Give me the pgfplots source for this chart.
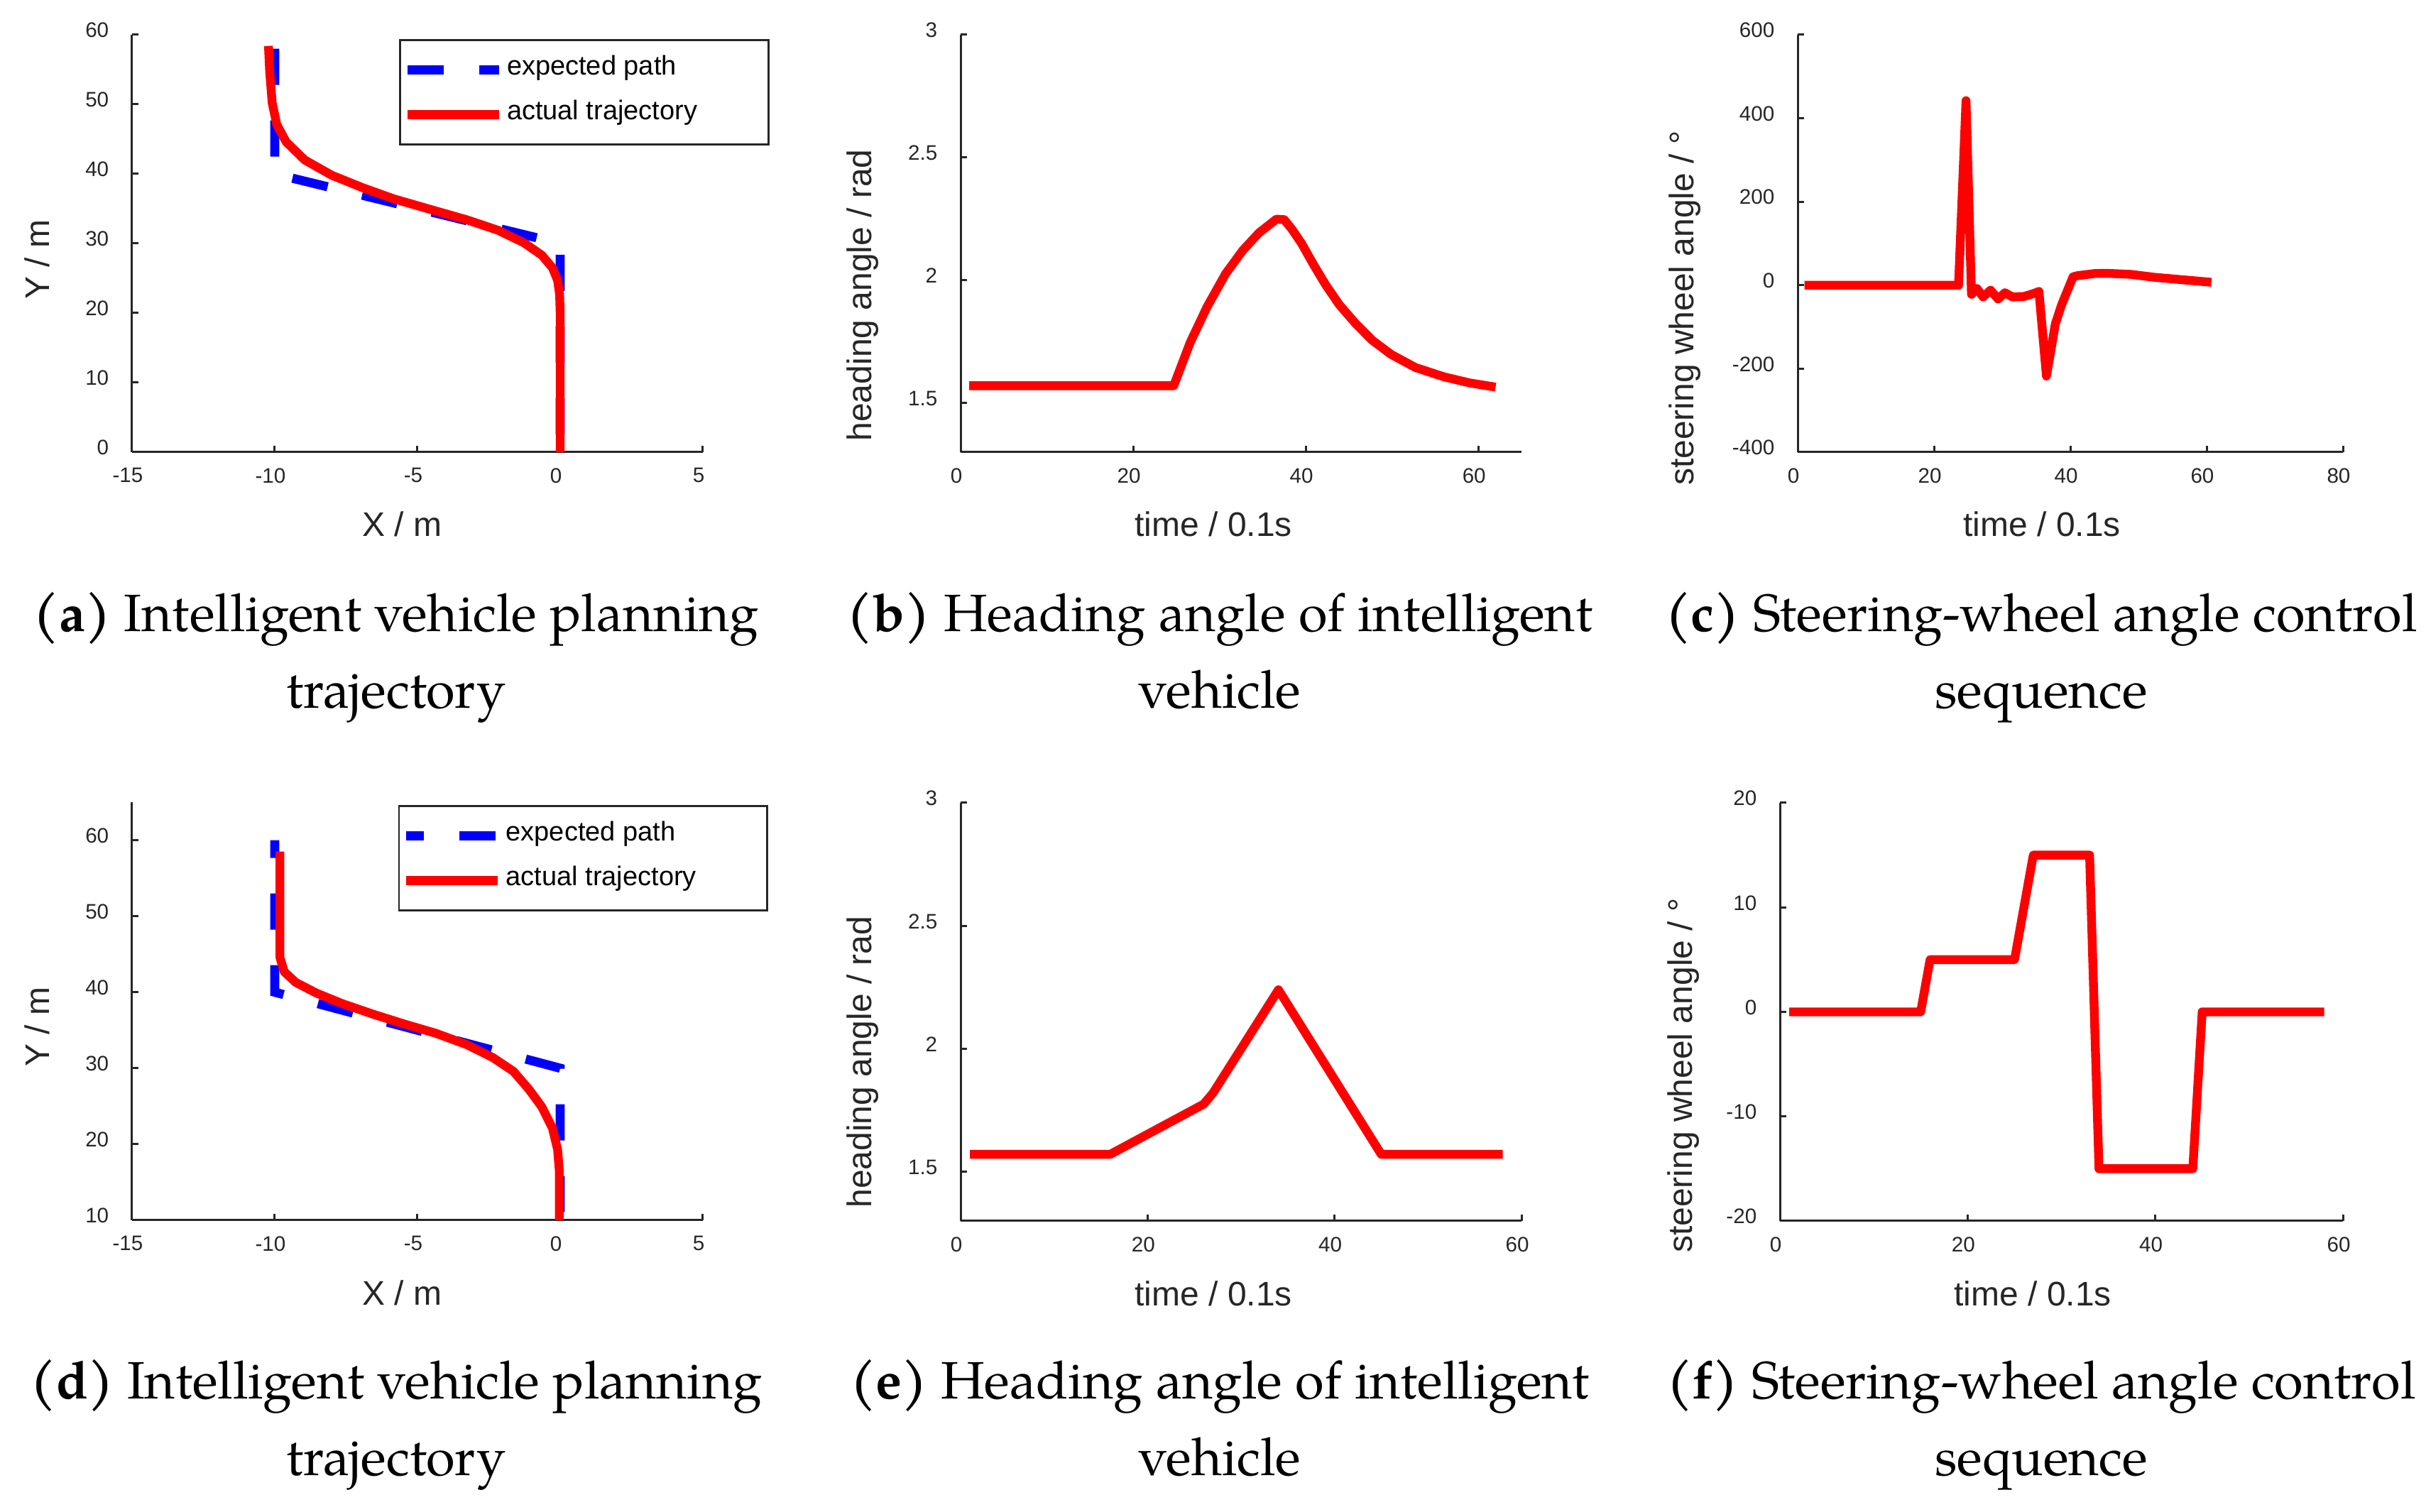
\documentclass[border=0pt]{standalone}
\usepackage{fontspec}
\usepackage{pgfplots}
\pgfplotsset{compat=1.18}
\newfontfamily\arial{Liberation Sans}
\newfontfamily\pal{TeX Gyre Pagella}
\definecolor{axc}{RGB}{38,38,38}

\pgfplotsset{
  base/.style={
    scale only axis,
    axis x line=bottom, axis y line=left,
    axis line style={-, draw=axc, line width=0.75pt},
    every tick/.style={draw=axc, line width=0.75pt},
    major tick length=2.2pt,
    tick align=inside,
    enlargelimits=false,
    clip=false,
    xticklabel style={font=\arial\fontsize{7.4}{8}\selectfont, text=axc, inner sep=0pt, anchor=north, yshift=-5.4pt, xshift=-1.5pt},
    yticklabel style={font=\arial\fontsize{7.4}{8}\selectfont, text=axc, inner sep=0pt, anchor=east, xshift=-8pt, yshift=1.6pt},
    label style={font=\arial\fontsize{12}{14}\selectfont, text=axc},
  },
  redline/.style={color=red, line width=3.1pt, line join=round},
  blueline/.style={color=blue, line width=3.2pt, dash pattern=on 12.75pt off 12.5pt},
  mylegend/.style={
    legend style={at={(axis description cs:#1)}, anchor=north west, draw=axc, line width=0.7pt, fill=white,
      inner xsep=1pt, inner ysep=5.25pt, row sep=5.25pt, column sep=1.2pt,
      font=\arial\fontsize{9.5}{11}\selectfont,
      nodes={inner sep=0pt, text height=7pt, text depth=3.5pt}},
    legend cell align=left,
    legend image code/.code={\draw[##1] (0pt,0pt) -- (32.25pt,0pt);},
  },
}

\begin{document}
\begin{tikzpicture}
\useasboundingbox (0,0) rectangle (854.25pt,532.5pt);

% (a)
\begin{axis}[base, at={(46.5pt,373.25pt)}, anchor=south west, width=201pt, height=147pt,
  xmin=-15, xmax=5, ymin=0, ymax=60,
  xtick={-15,-10,-5,0,5}, xticklabels={-15,-10,-5,0,5},
  ytick={0,10,20,30,40,50,60}, yticklabels={0,10,20,30,40,50,60},
  xlabel={X / m}, ylabel={Y / m},
  xlabel style={at={(axis description cs:0.473,-0.173)}, anchor=center},
  ylabel style={at={(axis description cs:-0.166,0.461)}, anchor=center},
  mylegend={0.4677,0.9898}]
\addplot[blueline] coordinates {(-10,58) (-10,40) (0,30) (0,0)};
\addlegendentry{expected path}
\addplot[redline] coordinates {(-10.22,58.4) (-10.18,54.8) (-10.09,50.2) (-9.93,47.1) (-9.6,44.6) (-8.95,42.0) (-8.0,39.8) (-6.91,38.0) (-5.82,36.4) (-4.55,34.9) (-3.27,33.4) (-2.18,31.9) (-1.27,30.1) (-0.64,28.3) (-0.27,26.5) (-0.09,24.7) (-0.02,22.7) (0,20) (0,0)};
\addlegendentry{actual trajectory\rule{24pt}{0pt}}
\end{axis}

% (b)
\begin{axis}[base, at={(338.25pt,373.25pt)}, anchor=south west, width=197.5pt, height=147pt,
  xmin=0, xmax=65, ymin=1.3, ymax=3,
  xtick={0,20,40,60}, xticklabels={0,20,40,60},
  ytick={1.5,2,2.5,3}, yticklabels={1.5,2,2.5,3},
  xlabel={time / 0.1s}, ylabel={heading angle / rad},
  xlabel style={at={(axis description cs:0.451,-0.173)}, anchor=center},
  ylabel style={at={(axis description cs:-0.175,0.376)}, anchor=center}]
\addplot[redline] coordinates {(1,1.5708) (24.7,1.5708) (26.6,1.746) (28.55,1.891) (30.7,2.026) (32.7,2.122) (34.6,2.194) (36.6,2.249) (37.5,2.247) (38.4,2.208) (39.5,2.151) (40.9,2.064) (42.3,1.982) (43.9,1.900) (45.8,1.823) (47.7,1.756) (49.9,1.698) (52.7,1.645) (56.0,1.607) (59,1.582) (62,1.565)};
\end{axis}

% (c)
\begin{axis}[base, at={(633pt,373.25pt)}, anchor=south west, width=192pt, height=147pt,
  xmin=0, xmax=80, ymin=-400, ymax=600,
  xtick={0,20,40,60,80}, xticklabels={0,20,40,60,80},
  ytick={-400,-200,0,200,400,600}, yticklabels={-400,-200,0,200,400,600},
  xlabel={time / 0.1s}, ylabel={steering wheel angle / °},
  xlabel style={at={(axis description cs:0.448,-0.173)}, anchor=center},
  ylabel style={at={(axis description cs:-0.207,0.345)}, anchor=center}]
\addplot[redline] coordinates {(1,0) (23.6,0) (24.7,442) (25.5,-22) (26.3,-8) (27.2,-28) (28.3,-12) (29.4,-33) (30.4,-18) (31.5,-28) (33.2,-27) (34.6,-20) (35.4,-15) (36.5,-218) (37.8,-93) (38.7,-48) (39.7,-8) (40.4,20) (41.1,23) (43.6,28) (45.4,28.5) (48.9,26) (52.3,19) (55.8,14) (59.3,9) (60.7,7)};
\end{axis}

% (d)
\begin{axis}[base, at={(46.5pt,102.75pt)}, anchor=south west, width=201pt, height=147.25pt,
  xmin=-15, xmax=5, ymin=10, ymax=65,
  xtick={-15,-10,-5,0,5}, xticklabels={-15,-10,-5,0,5},
  ytick={10,20,30,40,50,60}, yticklabels={10,20,30,40,50,60},
  xlabel={X / m}, ylabel={Y / m},
  xlabel style={at={(axis description cs:0.473,-0.173)}, anchor=center},
  ylabel style={at={(axis description cs:-0.166,0.462)}, anchor=center},
  mylegend={0.466,0.993}]
\addplot[blueline, dash phase=6.5pt] coordinates {(-10,60) (-10,40) (0,30) (0,10)};
\addlegendentry{expected path}
\addplot[redline] coordinates {(-9.82,58.5) (-9.82,44.6) (-9.67,42.7) (-9.27,41.3) (-8.55,39.9) (-7.64,38.5) (-6.55,37.1) (-5.45,35.8) (-4.36,34.6) (-3.27,33.1) (-2.36,31.4) (-1.64,29.6) (-1.09,27.2) (-0.64,24.9) (-0.27,22.1) (-0.09,19.3) (-0.03,16.5) (-0.03,10)};
\addlegendentry{actual trajectory\rule{24pt}{0pt}}
\end{axis}

% (e)
\begin{axis}[base, at={(338.25pt,102.5pt)}, anchor=south west, width=197.5pt, height=147.25pt,
  xmin=0, xmax=60, ymin=1.3, ymax=3,
  xtick={0,20,40,60}, xticklabels={0,20,40,60},
  ytick={1.5,2,2.5,3}, yticklabels={1.5,2,2.5,3},
  xlabel={time / 0.1s}, ylabel={heading angle / rad},
  xlabel style={at={(axis description cs:0.451,-0.173)}, anchor=center},
  ylabel style={at={(axis description cs:-0.175,0.38)}, anchor=center}]
\addplot[redline] coordinates {(1,1.5708) (16,1.5708) (26,1.775) (27,1.82) (34,2.24) (45,1.5708) (58,1.5708)};
\end{axis}

% (f)
\begin{axis}[base, at={(626.75pt,102.5pt)}, anchor=south west, width=198.25pt, height=147.25pt,
  xmin=0, xmax=60, ymin=-20, ymax=20,
  xtick={0,20,40,60}, xticklabels={0,20,40,60},
  ytick={-20,-10,0,10,20}, yticklabels={-20,-10,0,10,20},
  xlabel={time / 0.1s}, ylabel={steering wheel angle / °},
  xlabel style={at={(axis description cs:0.449,-0.173)}, anchor=center},
  ylabel style={at={(axis description cs:-0.171,0.348)}, anchor=center}]
\addplot[redline] coordinates {(1,0) (15,0) (16,5) (25,5) (27,15) (33,15) (34,-15) (44,-15) (45,0) (58,0)};
\end{axis}

% captions
\begin{scope}[every node/.style={anchor=base, inner sep=0pt, font=\pal\fontsize{18.5}{27}\selectfont}]
\node at (139.5pt,310pt) {\textbf{(a)} Intelligent vehicle planning};
\node at (139.5pt,283pt) {trajectory};
\node at (429.5pt,310pt) {\textbf{(b)} Heading angle of intelligent};
\node at (429.5pt,283pt) {vehicle};
\node at (718.75pt,310pt) {\textbf{(c)} Steering-wheel angle control};
\node at (718.75pt,283pt) {sequence};
\node at (139.5pt,39.75pt) {\textbf{(d)} Intelligent vehicle planning};
\node at (139.5pt,12.75pt) {trajectory};
\node at (429.5pt,39.75pt) {\textbf{(e)} Heading angle of intelligent};
\node at (429.5pt,12.75pt) {vehicle};
\node at (718.75pt,39.75pt) {\textbf{(f)} Steering-wheel angle control};
\node at (718.75pt,12.75pt) {sequence};
\end{scope}
\end{tikzpicture}
\end{document}
